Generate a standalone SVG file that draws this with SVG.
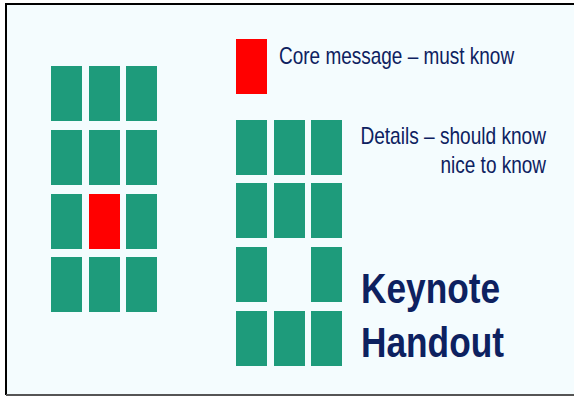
<svg xmlns="http://www.w3.org/2000/svg" width="574" height="396" viewBox="0 0 574 396">
  <style>
    .blk { fill: #1e9b7b; }
    .core { fill: #ff0000; }
    .lbl { font-family: "Liberation Sans", Arial, sans-serif; font-size: 23px; fill: #0d2160; }
    .title { font-family: "Liberation Sans", Arial, sans-serif; font-size: 42px; font-weight: bold; fill: #0d2160; }
  </style>

  <!-- slide background and frame -->
  <rect x="0" y="0" width="574" height="396" fill="#ffffff"/>
  <rect x="6" y="4" width="568" height="391" fill="#f4fcfe"/>
  <line x1="5" y1="4" x2="574" y2="4" stroke="#000000" stroke-width="2"/>
  <line x1="6" y1="3" x2="6" y2="395" stroke="#000000" stroke-width="2"/>
  <line x1="6" y1="395" x2="574" y2="395" stroke="#555555" stroke-width="2"/>

  <!-- keynote: full grid with the core message inside -->
  <g id="keynote-grid">
    <rect class="blk" x="51" y="66" width="31" height="55"/>
    <rect class="blk" x="89" y="66" width="31" height="55"/>
    <rect class="blk" x="126" y="66" width="31" height="55"/>
    <rect class="blk" x="51" y="130" width="31" height="55"/>
    <rect class="blk" x="89" y="130" width="31" height="55"/>
    <rect class="blk" x="126" y="130" width="31" height="55"/>
    <rect class="blk" x="51" y="194" width="31" height="55"/>
    <rect class="core" x="89" y="194" width="31" height="55"/>
    <rect class="blk" x="126" y="194" width="31" height="55"/>
    <rect class="blk" x="51" y="257" width="31" height="55"/>
    <rect class="blk" x="89" y="257" width="31" height="55"/>
    <rect class="blk" x="126" y="257" width="31" height="55"/>
  </g>

  <!-- legend: core message (narrow type, condensed horizontally) -->
  <g id="core-legend">
    <rect class="core" x="236" y="39" width="31" height="55"/>
    <text class="lbl" transform="translate(279,64) scale(0.825,1)">Core message – must know</text>
  </g>

  <!-- handout: details grid with the core slot left open -->
  <g id="handout-grid">
    <rect class="blk" x="236" y="120" width="31" height="55"/>
    <rect class="blk" x="274" y="120" width="31" height="55"/>
    <rect class="blk" x="311" y="120" width="31" height="55"/>
    <rect class="blk" x="236" y="183" width="31" height="55"/>
    <rect class="blk" x="274" y="183" width="31" height="55"/>
    <rect class="blk" x="311" y="183" width="31" height="55"/>
    <rect class="blk" x="236" y="247" width="31" height="55"/>
    <rect class="blk" x="311" y="247" width="31" height="55"/>
    <rect class="blk" x="236" y="311" width="31" height="55"/>
    <rect class="blk" x="274" y="311" width="31" height="55"/>
    <rect class="blk" x="311" y="311" width="31" height="55"/>
  </g>

  <g id="details-legend">
    <text class="lbl" text-anchor="end" transform="translate(546,144) scale(0.83,1)">Details – should know</text>
    <text class="lbl" text-anchor="end" transform="translate(546,173) scale(0.825,1)">nice to know</text>
  </g>

  <g id="title">
    <text class="title" transform="translate(361,303) scale(0.84,1)">Keynote</text>
    <text class="title" transform="translate(361,357) scale(0.84,1)">Handout</text>
  </g>
</svg>
